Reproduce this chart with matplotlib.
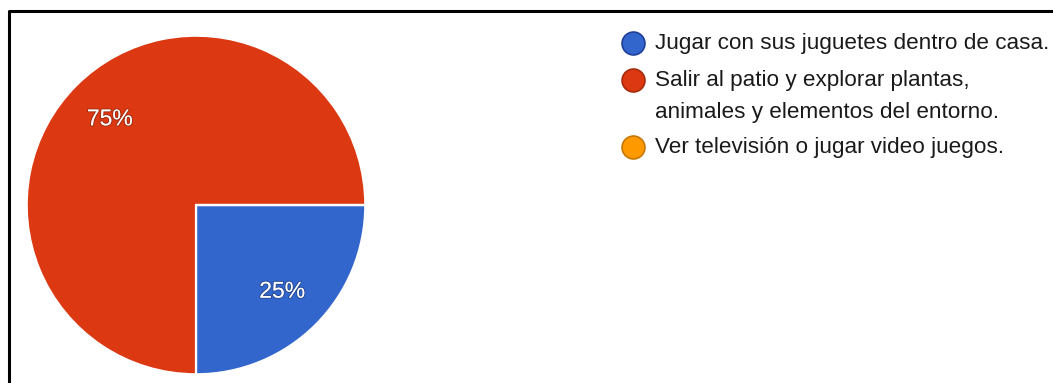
import matplotlib
matplotlib.use("Agg")
import matplotlib.pyplot as plt
import matplotlib.patheffects as pe

plt.rcParams['font.family'] = ['Liberation Sans', 'DejaVu Sans']

labels = ["Jugar con sus juguetes dentro de casa.",
          "Salir al patio y explorar plantas,\nanimales y elementos del entorno.",
          "Ver televisión o jugar video juegos."]
values = [25, 75, 0]
colors = ["#3366CC", "#DC3912", "#FF9900"]
edges = ["#1f3f99", "#a62a0c", "#c77700"]

W, H = 1053, 383
fig = plt.figure(figsize=(W / 100, H / 100), dpi=100)

# pie centre (196, 205) px, radius 171 px
cx, cy, r = 196, 205, 171
ax = fig.add_axes([(cx - r) / W, (H - cy - r) / H, 2 * r / W, 2 * r / H])


def fmt(p):
    return "%d%%" % round(p) if p > 0 else ""


wedges, texts, autotexts = ax.pie(values, colors=colors, startangle=0,
                                  counterclock=False, autopct=fmt,
                                  pctdistance=0.72, radius=1,
                                  wedgeprops=dict(edgecolor="white", linewidth=1.6))
for t in autotexts:
    t.set_color("white")
    t.set_fontsize(16.5)
    t.set_path_effects([pe.withStroke(linewidth=1.5, foreground=(0, 0, 0, 0.25))])
ax.set_xlim(-1.01, 1.01)
ax.set_ylim(-1.01, 1.01)
ax.set_aspect("equal")
ax.axis("off")

# overlay in pixel coordinates for the frame and the legend
ov = fig.add_axes([0, 0, 1, 1], zorder=-1)
ov.set_xlim(0, W)
ov.set_ylim(H, 0)
ov.axis("off")
ov.plot([9, 9, W], [H, 11, 11], color="black", lw=2.2, solid_capstyle="butt")

lg = fig.add_axes([0, 0, 1, 1])
lg.set_xlim(0, W)
lg.set_ylim(H, 0)
lg.axis("off")
ys = [43, 80, 147]
for lab, col, ec, y in zip(labels, colors, edges, ys):
    lg.plot(633, y, "o", ms=16.5, color=col, mec=ec, mew=1.2)
    lg.text(655, y - 10, lab, fontsize=16.2, color="#1a1a1a", va="top",
            ha="left", linespacing=1.68)

fig.savefig("out.png", dpi=100)
